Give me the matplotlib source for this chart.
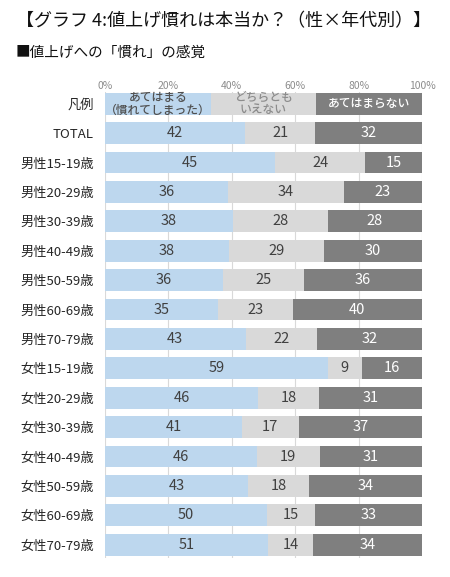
import numpy as np
import matplotlib
matplotlib.use("Agg")
import matplotlib.pyplot as plt

plt.rcParams["font.family"] = ["Noto Sans CJK JP", "DejaVu Sans"]

categories = [
    "TOTAL",
    "男性15-19歳", "男性20-29歳", "男性30-39歳", "男性40-49歳",
    "男性50-59歳", "男性60-69歳", "男性70-79歳",
    "女性15-19歳", "女性20-29歳", "女性30-39歳", "女性40-49歳",
    "女性50-59歳", "女性60-69歳", "女性70-79歳",
]
agree = [42, 45, 36, 38, 38, 36, 35, 43, 59, 46, 41, 46, 43, 50, 51]
neutral = [21, 24, 34, 28, 29, 25, 23, 22, 9, 18, 17, 19, 18, 15, 14]
disagree = [32, 15, 23, 28, 30, 36, 40, 32, 16, 31, 37, 31, 34, 33, 34]

legend_labels = ["あてはまる\n（慣れてしまった）", "どちらとも\nいえない", "あてはまらない"]
colors = ["#BDD7EE", "#D9D9D9", "#7F7F7F"]
text_colors = ["#404040", "#404040", "white"]
legend_text_colors = ["#505050", "#8C8C8C", "white"]

fig = plt.figure(figsize=(4.5, 5.77), dpi=100)
ax = fig.add_axes([0.2333, 0.033, 0.7044, 0.8076])

# legend row on top, equal thirds
left = 0
for i, lab in enumerate(legend_labels):
    ax.barh(0, 100 / 3, left=left, height=0.745, color=colors[i], zorder=2)
    ax.text(left + 100 / 6, 0, lab, ha="center", va="center",
            fontsize=8.5, fontweight="medium", color=legend_text_colors[i],
            linespacing=0.95, zorder=3)
    left += 100 / 3

# data rows, normalized so each bar spans 0-100%
vals = np.array([agree, neutral, disagree], dtype=float)
share = vals / vals.sum(axis=0) * 100
y = np.arange(1, len(categories) + 1)
lefts = np.zeros(len(categories))
for i in range(3):
    ax.barh(y, share[i], left=lefts, height=0.745, color=colors[i], zorder=2)
    for yy, l, w, v in zip(y, lefts, share[i], vals[i]):
        ax.text(l + w / 2, yy, f"{int(v)}", ha="center", va="center",
                fontsize=10.5, color=text_colors[i], zorder=3)
    lefts += share[i]

ax.set_xlim(0, 100)
ax.set_ylim(15.45, -0.4)
ax.set_yticks(np.arange(0, len(categories) + 1))
ax.set_yticklabels(["凡例"] + categories, fontsize=9.5, color="#262626")
ax.set_xticks(np.arange(0, 101, 20))
ax.set_xticklabels([f"{t}%" for t in range(0, 101, 20)], fontsize=7.5,
                   color="#8C8C8C")
ax.xaxis.tick_top()
ax.tick_params(axis="both", length=0)
ax.tick_params(axis="x", pad=1)
ax.tick_params(axis="y", pad=8)
ax.grid(axis="x", color="#D9D9D9", linewidth=0.8, zorder=0)
for s in ax.spines.values():
    s.set_visible(False)

fig.text(0.035, 0.963, "【グラフ 4:値上げ慣れは本当か？（性×年代別）】",
         fontsize=13, va="center", ha="left", color="#111111")
fig.text(0.035, 0.908, "■値上げへの「慣れ」の感覚", fontsize=10.5,
         va="center", ha="left", color="#111111")

fig.savefig("out.png", dpi=100)
